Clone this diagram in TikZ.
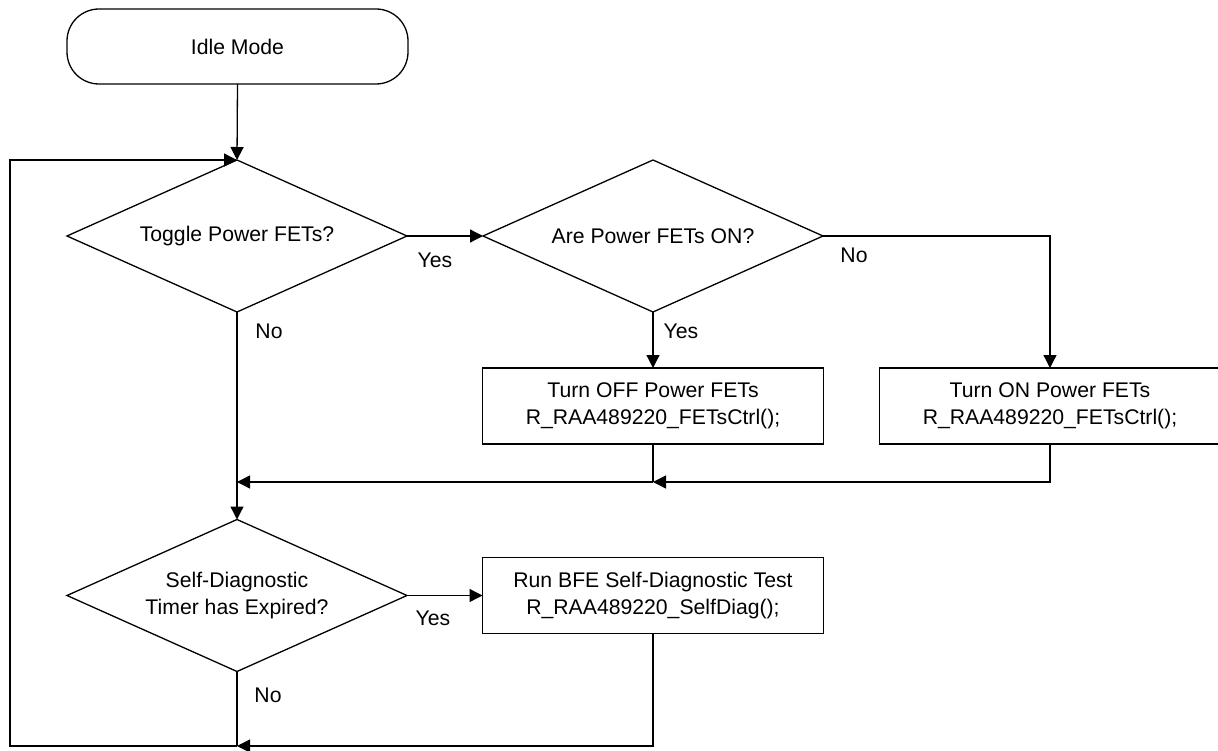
\documentclass[tikz,border=0pt]{standalone}
\usepackage{fontspec}
\setmainfont{Liberation Sans}
\usetikzlibrary{shapes.geometric,arrows.meta}
\begin{document}
\begin{tikzpicture}[x=1pt,y=-1pt,
  every node/.style={font=\fontsize{21.2}{27.5}\selectfont},
  flow/.style={line width=1.3pt},
  arr/.style={flow,-{Triangle[length=13pt,width=13pt]}},
  decision/.style={draw,flow,diamond,aspect=2.237,minimum width=340pt,minimum height=152pt,inner sep=0pt,outer sep=0pt,align=center},
  process/.style={draw,flow,rectangle,minimum width=341pt,minimum height=76pt,inner sep=0pt,outer sep=0pt,align=center},
  terminal/.style={draw,flow,rectangle,rounded corners=32pt,minimum width=341pt,minimum height=75pt,outer sep=0pt,align=center},
  lbl/.style={inner sep=0pt}]

% page area
\fill[white] (0,0) rectangle (1218,751);
\useasboundingbox (0,0) rectangle (1218,751);

% shapes
\node[terminal] (idle) at (237.5,46.5) {Idle Mode};
\node[decision] (toggle) at (237,236) {Toggle Power FETs?};
\node[decision] (areon) at (653,236) {Are Power FETs ON?};
\node[process] (off) at (653,406) {Turn OFF Power FETs\\R\_RAA489220\_FETsCtrl();};
\node[process] (on) at (1050,406) {Turn ON Power FETs\\R\_RAA489220\_FETsCtrl();};
\node[decision] (timer) at (237,595.5) {Self-Diagnostic\\Timer has Expired?};
\node[process] (diag) at (653,595.5) {Run BFE Self-Diagnostic Test\\R\_RAA489220\_SelfDiag();};

% junction points
\coordinate (mergeA) at (237,482);
\coordinate (mergeB) at (653,482);
\coordinate (loopEnd) at (237,746);
\coordinate (loopBL) at (10,746);
\coordinate (loopTL) at (loopBL |- toggle.north);

% connectors
\draw[arr] (idle.south) -- (toggle.north);
\draw[arr] (toggle.east) -- (areon.west);
\draw[arr] (areon.south) -- (off.north);
\draw[arr] (areon.east) -| (on.north);
\draw[flow] (off.south) -- (mergeB);
\draw[arr] (on.south) |- (mergeB);
\draw[arr] (mergeB) -- (mergeA);
\draw[flow] (toggle.south) -- (mergeA);
\draw[arr] (mergeA) -- (timer.north);
\draw[arr] (timer.east) -- (diag.west);
\draw[arr] (diag.south) |- (loopEnd);
\draw[flow] (timer.south) -- (loopEnd);
\draw[arr] (loopEnd) -- (loopBL) -- (loopTL) -- (toggle.north);

% branch labels
\node[lbl] (y1) at (435,260) {Yes};
\node[lbl] (n1) at (269,331) {No};
\node[lbl] (y2) at (681,331) {Yes};
\node[lbl] (n2) at (854,255) {No};
\node[lbl] (y3) at (433,618) {Yes};
\node[lbl] (n3) at (268,695) {No};
\end{tikzpicture}
\end{document}
